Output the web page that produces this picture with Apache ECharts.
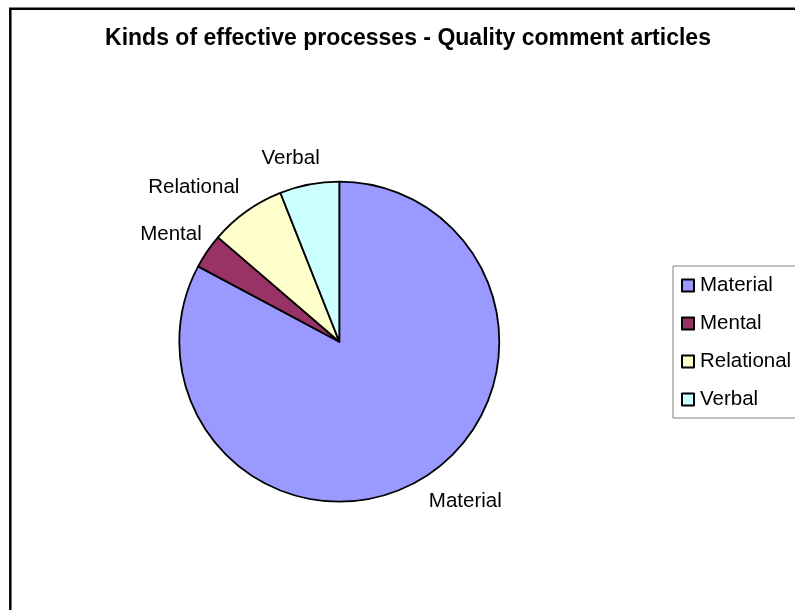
<!DOCTYPE html>
<html>
<head>
<meta charset="utf-8">
<script src="https://cdn.jsdelivr.net/npm/echarts@6/dist/echarts.min.js"></script>
<style>html,body{margin:0;padding:0;background:#fff}#c{width:795px;height:610px}</style>
</head>
<body>
<div id="c"></div>
<script>
const titleText = 'Kinds of effective processes - Quality comment articles';
const categories = ['Material', 'Mental', 'Relational', 'Verbal'];
const values = [82.8, 3.5, 7.7, 6.0];
const colors = ['#9999FF', '#993366', '#FFFFCC', '#CCFFFF'];
const labelNudges = [[-5, 10], [11, -9], [6, -13], [18, -12]];

const FONT = 'Arial, "Liberation Sans", sans-serif';
const chart = echarts.init(document.getElementById('c'), null, {renderer: 'canvas'});
chart.setOption({
  backgroundColor: '#fff',
  animation: false,
  title: {
    text: titleText,
    left: 408, top: 27, textAlign: 'center', padding: 0,
    textStyle: {fontFamily: FONT, fontSize: 23, fontWeight: 'bold', color: '#000', lineHeight: 23}
  },
  graphic: [{
    type: 'rect', silent: true,
    shape: {x: 10.3, y: 8.7, width: 820, height: 640},
    style: {fill: 'none', stroke: '#000', lineWidth: 2.5}
  }],
  legend: {
    orient: 'vertical', left: 673, top: 266,
    padding: [9, 10, 8, 8],
    itemWidth: 12, itemHeight: 12, itemGap: 17,
    icon: 'rect',
    borderColor: '#808080', borderWidth: 1, backgroundColor: '#fff',
    data: categories,
    textStyle: {fontFamily: FONT, fontSize: 20.5, color: '#000', lineHeight: 20, padding: [0, 0, 0, 1]}
  },
  series: [{
    type: 'pie',
    center: [339.3, 341.7], radius: 160,
    startAngle: 90, clockwise: true,
    avoidLabelOverlap: false,
    itemStyle: {borderColor: '#000', borderWidth: 1.8},
    label: {show: true, position: 'outside', fontFamily: FONT, fontSize: 20.5, color: '#000', formatter: '{b}'},
    labelLine: {show: false, length: 14, length2: 0},
    labelLayout: function (p) { const n = labelNudges[p.dataIndex]; return {dx: n[0], dy: n[1]}; },
    emphasis: {disabled: true},
    data: categories.map((c, i) => ({name: c, value: values[i], itemStyle: {color: colors[i]}}))
  }]
});
</script>
</body>
</html>
